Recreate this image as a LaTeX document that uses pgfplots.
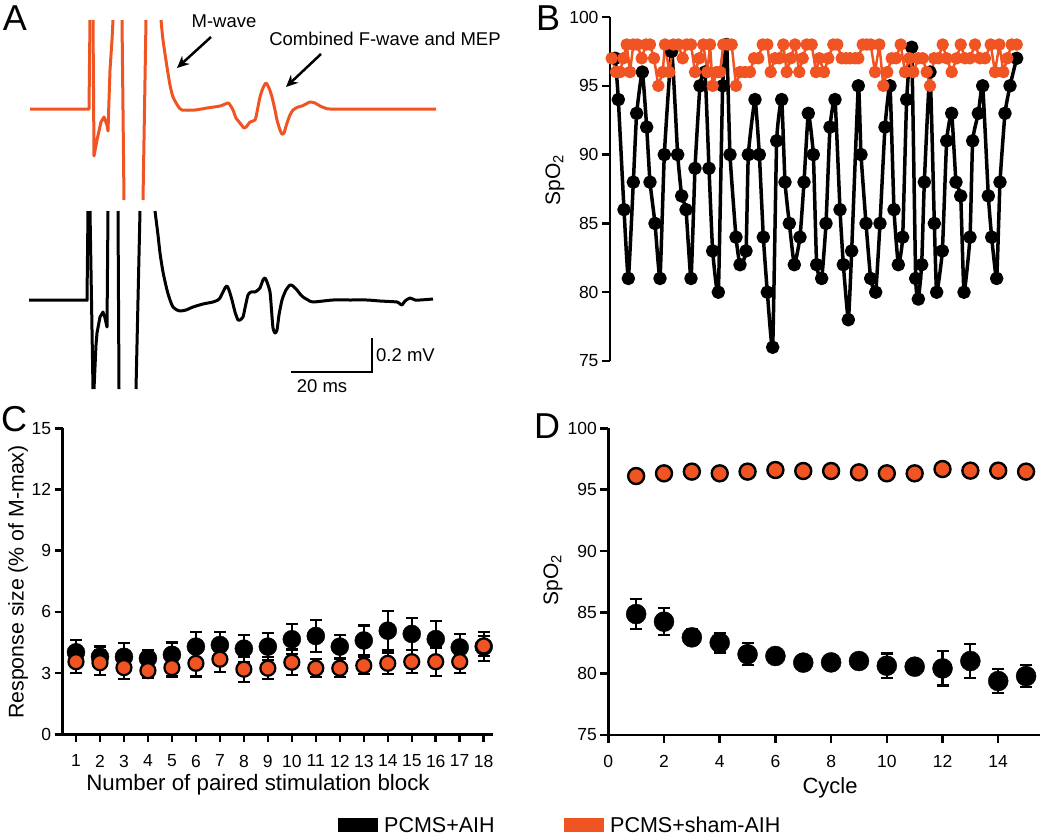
\documentclass[border=0pt]{standalone}
\usepackage{fontspec}
\setmainfont{Liberation Sans}
\usepackage{pgfplots}
\pgfplotsset{compat=1.18}
\usetikzlibrary{arrows.meta}
\definecolor{orng}{RGB}{240,84,35}
\newcommand\fs[1]{\fontsize{#1}{#1}\selectfont}
\pgfplotsset{
  panel/.style={scale only axis, clip=false,
    /pgf/number format/assume math mode=true,
    tick label style={font=\fs{17.5}},
    axis line style={line width=2.5pt, black, -},
    tick style={line width=2.5pt, black},
    major tick length=8pt, tick align=outside},
}
\begin{document}
\begin{tikzpicture}
\useasboundingbox (0pt,0pt) rectangle (1050pt,-836pt);

% ---------------- Panel A ----------------
\begin{axis}[scale only axis, hide axis, clip=false, at={(0pt,-400pt)}, anchor=south west,
  width=520pt, height=400pt, xmin=0, xmax=520, ymin=-400, ymax=0]
\addplot[orng, line width=3pt, line join=round] coordinates {(30,-109)(89,-109)(90,-20)};
\addplot[orng, line width=3pt, line join=round] coordinates {(93,-20)(94,-156)(97,-140)(101,-122)(104,-117)(107,-125)(108,-131)(109,-100)(110,-70)(112,-40)(113,-20)};
\addplot[orng, line width=3pt] coordinates {(122,-20)(124,-200)};
\addplot[orng, line width=3pt] coordinates {(143,-200)(146,-20)};
\addplot[orng, line width=3pt, line join=round, smooth, tension=0.4] coordinates {(161,-20)(163,-40)(167,-67)(170,-85)(173,-97)(178,-106)(182,-110)(195,-110)(207,-108)(220,-106)(228,-103)(230,-105)(233,-110)(236,-118)(240,-123)(244,-128)(247,-126)(250,-122)(255,-120)(257,-112)(260,-97)(263,-88)(266,-83)(269,-88)(272,-97)(275,-110)(277,-120)(280,-130)(282,-134)(284,-133)(287,-123)(290,-115)(293,-110)(298,-107)(302,-106)(306,-104)(310,-102)(315,-103)(320,-106)(325,-108)(330,-109)(360,-109)(380,-109)(436,-109)};
\addplot[black, line width=3pt] coordinates {(29,-300)(87,-300)(88,-211)};
\addplot[black, line width=3pt] coordinates {(90,-211)(93,-389)};
\addplot[black, line width=3pt, line join=round] coordinates {(94,-389)(96,-345)(97,-333)(100,-317)(103,-312)(105,-318)(107,-327)(108,-211)};
\addplot[black, line width=3pt] coordinates {(118,-211)(119,-389)};
\addplot[black, line width=3pt] coordinates {(136,-389)(140,-211)};
\addplot[black, line width=3pt, line join=round, smooth, tension=0.4] coordinates {(155,-211)(158,-235)(160,-253)(163,-272)(167,-290)(170,-300)(173,-307)(177,-310)(180,-311)(186,-310)(193,-307)(203,-304)(213,-302)(218,-300)(220,-298)(222,-294)(225,-288)(227,-286)(229,-290)(232,-300)(235,-312)(238,-320)(240,-320)(243,-317)(245,-308)(248,-295)(251,-292)(255,-292)(258,-290)(260,-288)(263,-280)(265,-278)(267,-282)(270,-292)(271.5,-310)(273,-328)(275,-333)(277,-330)(279,-315)(282,-300)(286,-290)(290,-285)(293,-286)(297,-290)(300,-294)(303,-297)(308,-300)(313,-302)(333,-300)(350,-300)(367,-300)(380,-301)(397,-302)(400,-304)(402,-305)(405,-301)(410,-298)(415,-300)(420,-300)(433,-299)};
\draw[line width=2.5pt, -{Stealth[length=12pt,width=11pt]}] (211,-37) -- (177,-68);
\draw[line width=2.5pt, -{Stealth[length=12pt,width=11pt]}] (321,-54) -- (286,-87);
\node[font=\fs{18.5}] at (224,-21) {M-wave};
\node[font=\fs{18.5}] at (385,-39) {Combined F-wave and MEP};
\draw[line width=2.5pt] (291,-372) -- (372,-372) -- (372,-338);
\node[font=\fs{18.5}, anchor=west, inner sep=0pt] at (376,-355) {0.2 mV};
\node[font=\fs{18.5}] at (322,-386) {20 ms};
\end{axis}

% ---------------- Panel B ----------------
\begin{axis}[panel, at={(610pt,-361pt)}, anchor=south west, width=410pt, height=344pt,
  xmin=240, xmax=1470, ymin=75, ymax=100, axis x line=none, axis y line*=left,
  ytick={75,80,...,100}, ytick pos=left]
\addplot[black, line width=3.5pt, line join=round, smooth, tension=0.25, mark=*, mark size=5pt, mark options={draw=none, fill=black}] coordinates {
(256,97)(265,94)(282,86)(295,81)(310,88)(320,93)(337,96)(350,92)(360,88)(375,85)(390,81)(403,90)(425,97.5)(443,90)(455,87)(468,86)(483,81)(495,89)(510,95)(525,96)(537,89)(548,83)(565,80)(578,95)(590,98)(600,90)(618,84)(630,82)(648,83)(655,90)(675,94)(688,90)(700,84)(712,80)(728,76)(740,91)(755,94)(765,88)(778,85)(793,82)(810,84)(822,88)(835,93)(850,90)(860,82)(875,81)(888,85)(900,92)(915,94)(930,86)(940,82)(955,78)(965,83)(985,95)(993,90)(1008,85)(1022,81)(1037,80)(1050,85)(1065,92)(1080,95)(1092,86)(1105,82)(1118,84)(1130,94)(1145,97.8)(1157,81)(1165,79.5)(1175,82)(1183,88)(1200,96)(1213,85)(1220,80)(1237,83)(1250,91)(1265,93)(1278,88)(1292,87)(1302,80)(1320,84)(1328,91)(1345,93)(1358,95)(1375,87)(1385,84)(1400,81)(1410,88)(1425,93)(1440,95)(1460,97)};
\addplot[orng, line width=2.5pt, line join=round, mark=*, mark size=5pt, mark options={draw=none, fill=orng}] coordinates {
(245,97)(258,96)(270,96)(280,97)(290,98)(300,96)(310,98)(322,98)(335,97)(348,98)(360,98)(372,97)(385,95)(398,96)(405,98)(418,96)(430,98)(445,98)(458,97)(470,98)(483,98)(495,96)(508,97)(520,98)(532,96)(540,98)(548,95)(560,96)(570,96)(580,98)(592,98)(605,98)(618,95)(630,96)(645,96)(660,96)(672,97)(685,97)(698,98)(712,98)(722,96)(735,97)(748,97)(760,98)(770,96)(782,97)(795,98)(808,96)(818,97)(830,98)(845,98)(858,96)(868,97)(882,96)(895,97)(910,98)(922,98)(935,97)(948,97)(960,97)(975,97)(985,97)(998,98)(1010,98)(1022,98)(1035,96)(1048,98)(1060,95)(1072,96)(1085,97)(1098,97)(1112,98)(1125,96)(1138,97)(1150,96)(1165,97)(1178,97)(1190,96)(1200,95)(1212,97)(1225,97)(1238,98)(1250,97)(1265,96)(1280,97)(1292,98)(1305,97)(1320,97)(1335,98)(1350,97)(1365,97)(1382,98)(1395,96)(1408,98)(1420,96)(1432,97)(1445,98)(1460,98)};
\end{axis}

% ---------------- Panel C ----------------
\begin{axis}[panel, at={(62.7pt,-734.3pt)}, anchor=south west, width=430pt, height=306pt,
  xmin=0.446, xmax=18.375, ymin=0, ymax=15, axis x line*=bottom, axis y line*=left,
  xtick={1,...,18}, ytick={0,3,...,15}, xtick pos=bottom, ytick pos=left,
  xticklabel style={yshift=-9pt}]
\addplot[only marks, mark=*, mark size=9pt, mark options={draw=none, fill=black},
  error bars/.cd, y dir=both, y explicit,
  error bar style={line width=2.2pt, black},
  error mark options={rotate=90, line width=2.2pt, mark size=6pt, black}]
  coordinates {
  (1,4.02) +- (0,0.6)
  (2,3.8) +- (0,0.5)
  (3,3.8) +- (0,0.66)
  (4,3.72) +- (0,0.41)
  (5,3.9) +- (0,0.6)
  (6,4.3) +- (0,0.7)
  (7,4.38) +- (0,0.65)
  (8,4.2) +- (0,0.67)
  (9,4.3) +- (0,0.65)
  (10,4.66) +- (0,0.74)
  (11,4.82) +- (0,0.78)
  (12,4.3) +- (0,0.57)
  (13,4.6) +- (0,0.73)
  (14,5.08) +- (0,0.97)
  (15,4.92) +- (0,0.8)
  (16,4.67) +- (0,0.9)
  (17,4.26) +- (0,0.64)
  (18,4.3) +- (0,0.7)};
\addplot[only marks, mark=*, mark size=7.5pt, mark options={draw=black, line width=2.2pt, fill=orng},
  error bars/.cd, y dir=both, y explicit,
  error bar style={line width=2.2pt, black},
  error mark options={rotate=90, line width=2.2pt, mark size=6pt, black}]
  coordinates {
  (1,3.56) +- (0,0.54)
  (2,3.51) +- (0,0.61)
  (3,3.27) +- (0,0.57)
  (4,3.12) +- (0,0.37)
  (5,3.27) +- (0,0.44)
  (6,3.48) +- (0,0.65)
  (7,3.68) +- (0,0.61)
  (8,3.19) +- (0,0.61)
  (9,3.24) +- (0,0.54)
  (10,3.53) +- (0,0.63)
  (11,3.24) +- (0,0.44)
  (12,3.24) +- (0,0.44)
  (13,3.37) +- (0,0.41)
  (14,3.48) +- (0,0.52)
  (15,3.56) +- (0,0.57)
  (16,3.56) +- (0,0.7)
  (17,3.56) +- (0,0.57)
  (18,4.33) +- (0,0.5)};
\end{axis}

% ---------------- Panel D ----------------
\begin{axis}[panel, at={(608.3pt,-735pt)}, anchor=south west, width=431.7pt, height=306.7pt,
  xmin=0, xmax=15.5, ymin=75, ymax=100, axis x line*=bottom, axis y line*=left,
  xtick={0,2,...,14}, ytick={75,80,...,100}, xtick pos=bottom, ytick pos=left,
  xticklabel style={yshift=-9pt}]
\addplot[only marks, mark=*, mark size=10pt, mark options={draw=none, fill=black},
  error bars/.cd, y dir=both, y explicit,
  error bar style={line width=2.2pt, black},
  error mark options={rotate=90, line width=2.2pt, mark size=6pt, black}]
  coordinates {
  (1,84.86) +- (0,1.2)
  (2,84.24) +- (0,1.1)
  (3,82.96) +- (0,0.65)
  (4,82.53) +- (0,0.8)
  (5,81.58) +- (0,0.9)
  (6,81.44) +- (0,0.5)
  (7,80.9) +- (0,0.4)
  (8,80.92) +- (0,0.6)
  (9,81.03) +- (0,0.5)
  (10,80.65) +- (0,1.0)
  (11,80.57) +- (0,0.5)
  (12,80.43) +- (0,1.4)
  (13,81.03) +- (0,1.4)
  (14,79.4) +- (0,1.0)
  (15,79.8) +- (0,0.9)};
\addplot[only marks, mark=*, mark size=8pt, mark options={draw=black, line width=2.4pt, fill=orng}]
  coordinates {
  (1,96.11)(2,96.33)(3,96.47)(4,96.33)(5,96.47)(6,96.6)(7,96.52)(8,96.52)
  (9,96.41)(10,96.33)(11,96.33)(12,96.68)(13,96.55)(14,96.55)(15,96.47)};
\end{axis}

% ---------------- Labels ----------------
\node[font=\fs{36}] at (15pt,-18pt) {A};
\node[font=\fs{36}] at (548pt,-18pt) {B};
\node[font=\fs{36}] at (14pt,-419pt) {C};
\node[font=\fs{36}] at (547pt,-426pt) {D};
\node[font=\fs{21}, rotate=90] at (555pt,-180pt) {SpO\textsubscript{2}};
\node[font=\fs{21}, rotate=90] at (553pt,-580pt) {SpO\textsubscript{2}};
\node[font=\fs{21.3}, rotate=90] at (18pt,-582pt) {Response size (\% of M-max)};
\node[font=\fs{22.3}] at (258pt,-785pt) {Number of paired stimulation block};
\node[font=\fs{22}] at (830pt,-788pt) {Cycle};
% legend
\fill[black] (338pt,-818pt) rectangle (378pt,-832pt);
\node[font=\fs{21.5}, anchor=west, inner sep=0pt] at (384pt,-825pt) {PCMS+AIH};
\fill[orng] (564pt,-818pt) rectangle (604pt,-832pt);
\node[font=\fs{21.5}, anchor=west, inner sep=0pt] at (610pt,-825pt) {PCMS+sham-AIH};
\end{tikzpicture}
\end{document}
